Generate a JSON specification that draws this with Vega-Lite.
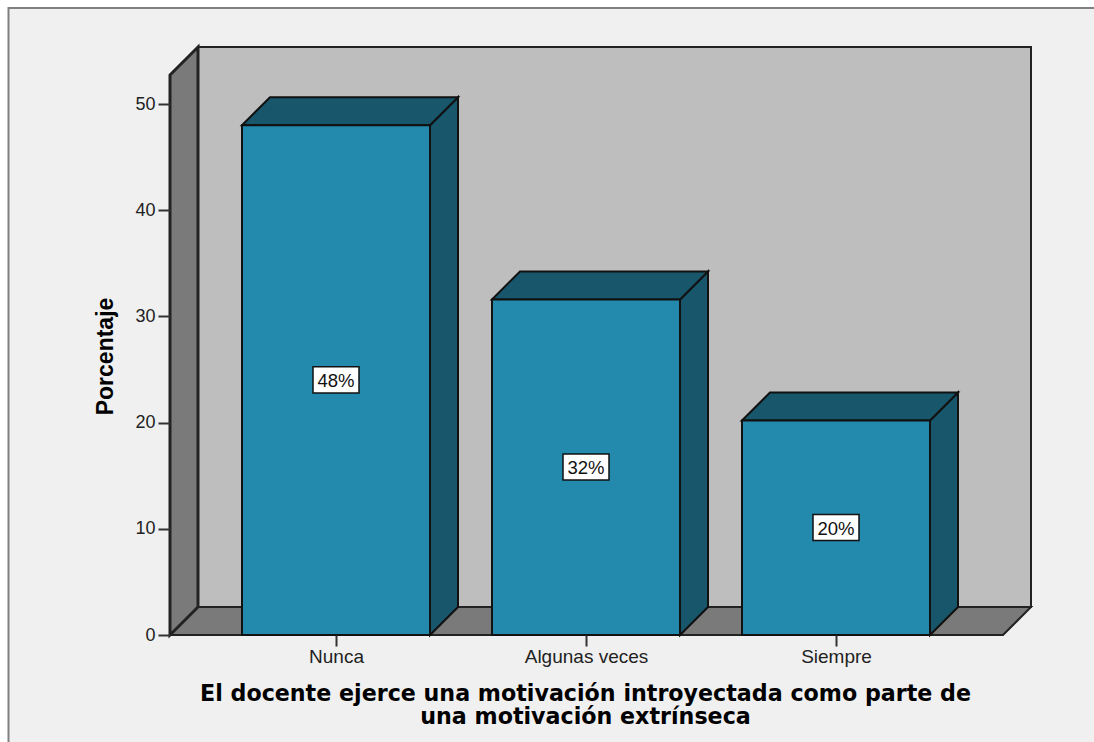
{
"$schema":"https://vega.github.io/schema/vega-lite/v6.json",
"width":861,"height":588,
"autosize":{"type":"none"},
"padding":{"left":170,"top":47,"right":63,"bottom":107},
"background":"#ffffff",
"config":{"view":{"stroke":null},"axis":{"grid":false}},
"datasets":{
"barras":[
{"categoria":"Nunca","orden":1,"porcentaje":48,"etiqueta":"48%"},
{"categoria":"Algunas veces","orden":2,"porcentaje":31.6,"etiqueta":"32%"},
{"categoria":"Siempre","orden":3,"porcentaje":20.2,"etiqueta":"20%"}
],
"marco":[{"elemento":"marco"}],
"esquinas":[{"k":0},{"k":1},{"k":2},{"k":3}]
},
"layer":[
{"data":{"name":"marco"},
"mark":{"type":"rect","fill":"#f0f0f0","stroke":"#808080","strokeWidth":2},
"encoding":{
"x":{"datum":-0.31,"type":"quantitative","scale":{"domain":[0.336,3.78],"nice":false,"zero":false},
"axis":{"title":["El docente ejerce una motivación introyectada como parte de","una motivación extrínseca"],"values":[1,2,3],"labelExpr":"datum.value==1?'Nunca':datum.value==2?'Algunas veces':'Siempre'","domain":false,"tickSize":11,"tickWidth":2,"tickColor":"#333333","labelFont":"Liberation Sans","labelFontSize":19,"labelColor":"#222222","labelPadding":1,"labelFlush":false,"labelOverlap":false,"titleFont":"DejaVu Sans","titleFontSize":22.2,"titleFontWeight":"bold","titleColor":"#000000","titleX":415,"titleY":65,"titleLineHeight":23,"titleBaseline":"alphabetic","zindex":1}},
"x2":{"datum":4.1},
"y":{"datum":59.04,"type":"quantitative","scale":{"domain":[0,55.37],"nice":false,"zero":false},
"axis":{"title":"Porcentaje","values":[0,10,20,30,40,50],"domain":false,"tickSize":12,"tickWidth":2,"tickColor":"#333333","labelFont":"Liberation Sans","labelFontSize":18,"labelColor":"#222222","labelPadding":3,"titleFont":"Liberation Sans","titleFontSize":23,"titleFontWeight":"bold","titleColor":"#000000","titleX":-53,"titleY":309,"zindex":1}},
"y2":{"datum":-11}
}},
{"data":{"name":"marco"},
"mark":{"type":"rect","fill":"#bebebe","stroke":"#222222","strokeWidth":2},
"encoding":{
"x":{"datum":0.448,"type":"quantitative"},"x2":{"datum":3.78},
"y":{"datum":2.637,"type":"quantitative"},"y2":{"datum":55.37}
}},
{"data":{"name":"esquinas"},
"transform":[
{"calculate":"[0.336,0.448,3.668,3.78][datum.k]","as":"px"},
{"calculate":"datum.k==0?0:2.637","as":"sup"},
{"calculate":"datum.k==3?2.637:0","as":"inf"}
],
"mark":{"type":"area","orient":"vertical","fill":"#7a7a7a","stroke":"#222222","strokeWidth":2,"opacity":1},
"encoding":{
"x":{"field":"px","type":"quantitative"},
"y":{"field":"sup","type":"quantitative","stack":null},
"y2":{"field":"inf"}
}},
{"data":{"name":"esquinas"},
"transform":[
{"filter":"datum.k<2"},
{"calculate":"[0.336,0.448][datum.k]","as":"px"},
{"calculate":"[52.73,55.37][datum.k]","as":"sup"},
{"calculate":"[0,2.637][datum.k]","as":"inf"}
],
"mark":{"type":"area","orient":"vertical","fill":"#7a7a7a","stroke":"#222222","strokeWidth":3,"opacity":1},
"encoding":{
"x":{"field":"px","type":"quantitative"},
"y":{"field":"sup","type":"quantitative","stack":null},
"y2":{"field":"inf"}
}},
{"data":{"name":"barras"},
"transform":[
{"calculate":"[0,1]","as":"k"},{"flatten":["k"]},
{"calculate":"datum.orden+0.376+datum.k*0.112","as":"px"},
{"calculate":"datum.porcentaje+datum.k*2.637","as":"sup"},
{"calculate":"datum.k*2.637","as":"inf"}
],
"mark":{"type":"area","orient":"vertical","fill":"#17566b","stroke":"#111111","strokeWidth":2,"opacity":1},
"encoding":{
"x":{"field":"px","type":"quantitative"},
"y":{"field":"sup","type":"quantitative","stack":null},
"y2":{"field":"inf"},
"detail":{"field":"categoria"}
}},
{"data":{"name":"barras"},
"transform":[
{"calculate":"[0,1,2,3]","as":"k"},{"flatten":["k"]},
{"calculate":"datum.orden-0.376+[0,0.112,0.752,0.864][datum.k]","as":"px"},
{"calculate":"datum.k==0?datum.porcentaje:datum.porcentaje+2.637","as":"sup"},
{"calculate":"datum.k==3?datum.porcentaje+2.637:datum.porcentaje","as":"inf"}
],
"mark":{"type":"area","orient":"vertical","fill":"#17566b","stroke":"#111111","strokeWidth":2,"opacity":1},
"encoding":{
"x":{"field":"px","type":"quantitative"},
"y":{"field":"sup","type":"quantitative","stack":null},
"y2":{"field":"inf"},
"detail":{"field":"categoria"}
}},
{"data":{"name":"barras"},
"transform":[
{"calculate":"datum.orden-0.376","as":"izq"},
{"calculate":"datum.orden+0.376","as":"der"}
],
"mark":{"type":"rect","fill":"#2389ad","stroke":"#111111","strokeWidth":2},
"encoding":{
"x":{"field":"izq","type":"quantitative"},"x2":{"field":"der"},
"y":{"field":"porcentaje","type":"quantitative","stack":null},"y2":{"datum":0}
}},
{"data":{"name":"barras"},
"transform":[
{"calculate":"datum.orden-0.092","as":"izq"},
{"calculate":"datum.orden+0.092","as":"der"},
{"calculate":"datum.porcentaje/2+1.25","as":"sup"},
{"calculate":"datum.porcentaje/2-1.2","as":"inf"}
],
"mark":{"type":"rect","fill":"#ffffff","stroke":"#111111","strokeWidth":1.5},
"encoding":{
"x":{"field":"izq","type":"quantitative"},"x2":{"field":"der"},
"y":{"field":"sup","type":"quantitative"},"y2":{"field":"inf"}
}},
{"data":{"name":"barras"},
"transform":[{"calculate":"datum.porcentaje/2","as":"centro"}],
"mark":{"type":"text","font":"Liberation Sans","fontSize":18.5,"color":"#111111","align":"center","baseline":"middle","dy":1},
"encoding":{
"x":{"field":"orden","type":"quantitative"},
"y":{"field":"centro","type":"quantitative"},
"text":{"field":"etiqueta","type":"nominal"}
}}
],
"resolve":{"scale":{"x":"shared","y":"shared"}}
}
